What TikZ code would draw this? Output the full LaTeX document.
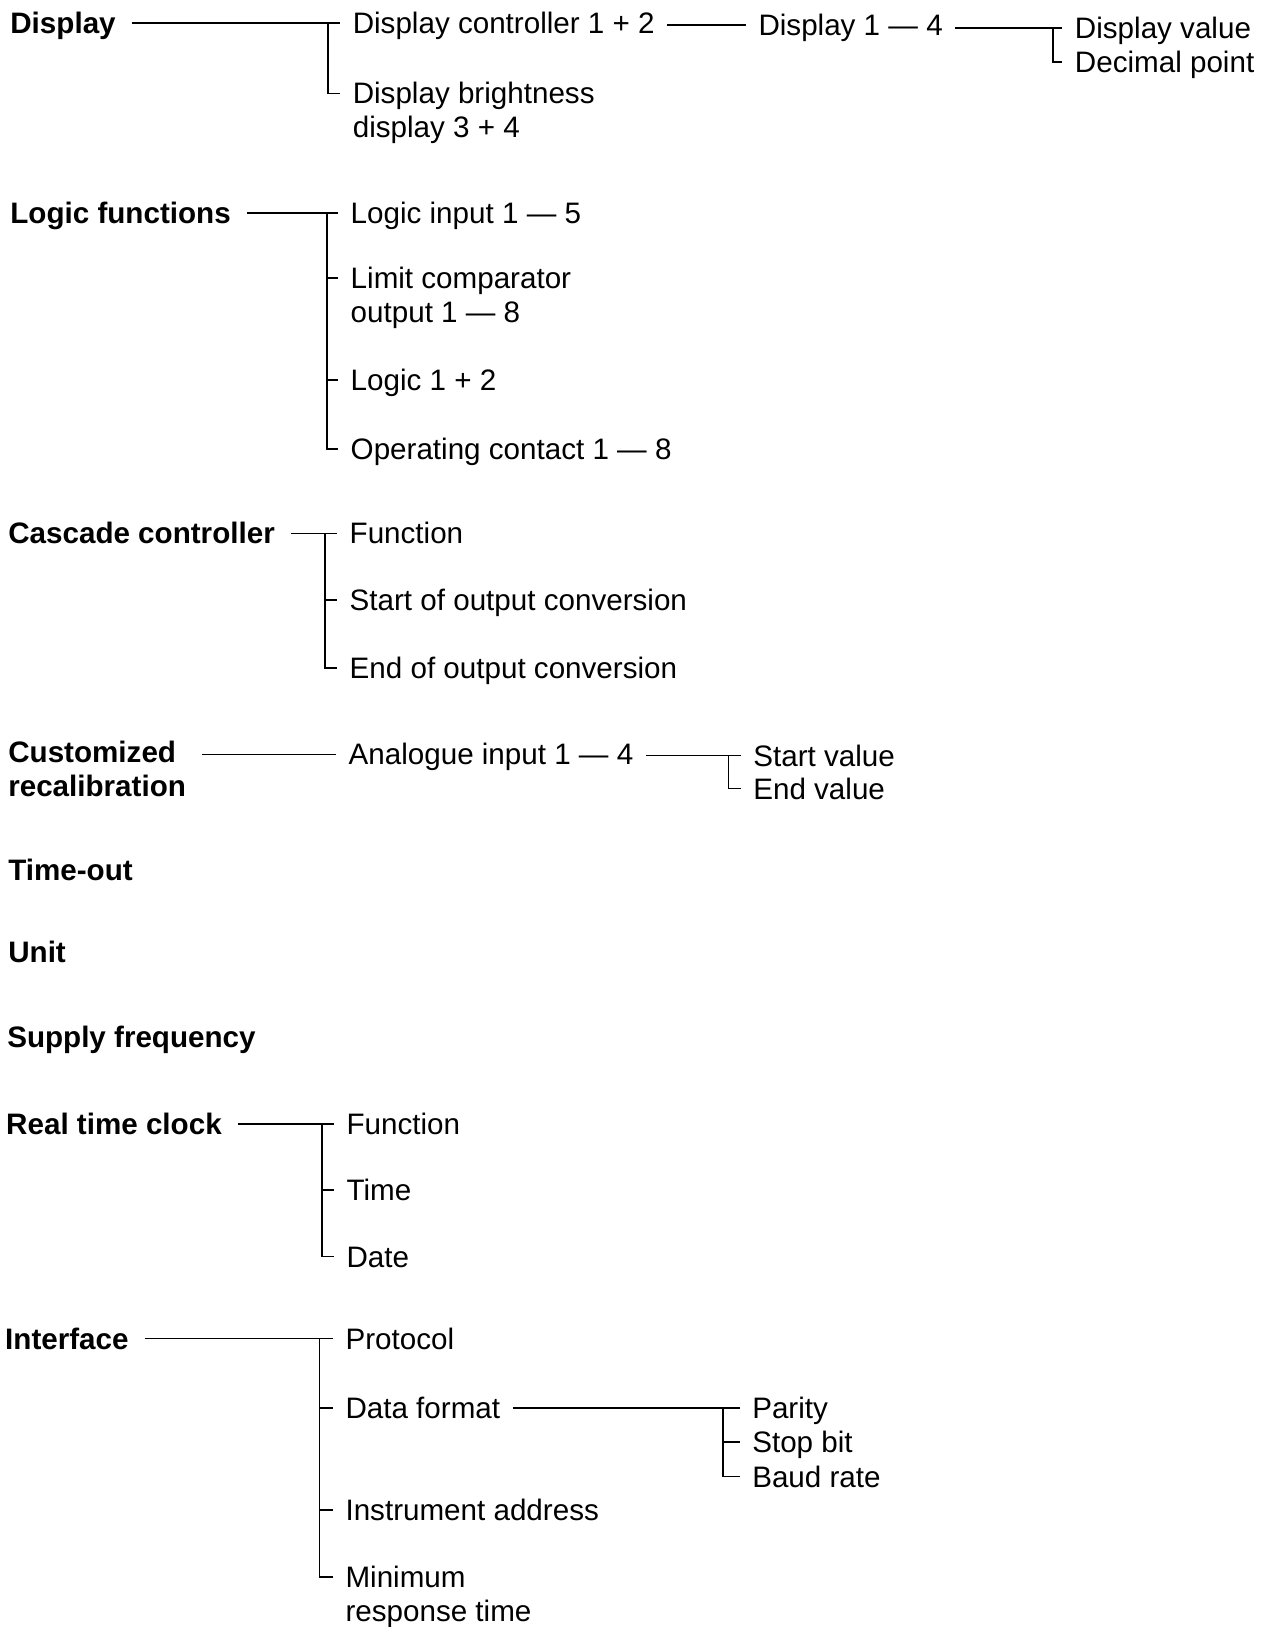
\documentclass[tikz,border=0pt]{standalone}
\usepackage{fontspec}
\setmainfont{Liberation Sans}
\begin{document}
\begin{tikzpicture}[x=0.5188pt,y=-0.5188pt,
  txtbase/.style={anchor=west, inner sep=0pt, outer ysep=0pt,
    text height=10.6pt, text depth=0pt},
  lbl/.style={txtbase, outer xsep=6.3pt, xshift=-6.3pt, font=\fontsize{14.8}{17}\selectfont},
  head/.style={txtbase, outer xsep=8pt, xshift=-8pt, font=\fontsize{14.8}{17}\selectfont\bfseries},
  conn/.style={line width=0.85pt, line cap=butt}]
\useasboundingbox (0,0) rectangle (1224,1568);

% bar positions
\coordinate (b1) at (316,0);
\coordinate (b2) at (1015,0);
\coordinate (b3) at (315,0);
\coordinate (b4) at (313,0);
\coordinate (b5) at (702,0);
\coordinate (b6) at (310,0);
\coordinate (b7) at (308,0);
\coordinate (b8) at (697,0);

% Display
\node[head] (disp) at (10,22) {Display};
\node[lbl] (dc) at (340,22) {Display controller 1 + 2};
\node[lbl] (db) at (340,90) {\begin{tabular}[t]{@{}l@{}}Display brightness\\display 3 + 4\end{tabular}};
\node[lbl] (d14) at (731,24) {Display 1 — 4};
\node[lbl] (dv) at (1036,27) {Display value};
\node[lbl] (dp) at (1036,60) {Decimal point};
\draw[conn] (disp.east |- dc.west) -- (dc.west);
\draw[conn] (b1 |- dc.west) |- (db.west);
\draw[conn] (dc.east |- d14.west) -- (d14.west);
\draw[conn] (d14.east |- dv.west) -- (dv.west);
\draw[conn] (b2 |- dv.west) |- (dp.west);

% Logic functions
\node[head] (logic) at (10,205) {Logic functions};
\node[lbl] (li) at (338,205) {Logic input 1 — 5};
\node[lbl] (lc) at (338,268) {\begin{tabular}[t]{@{}l@{}}Limit comparator\\output 1 — 8\end{tabular}};
\node[lbl] (l12) at (338,366) {Logic 1 + 2};
\node[lbl] (oc) at (338,433) {Operating contact 1 — 8};
\draw[conn] (logic.east |- li.west) -- (li.west);
\draw[conn] (b3 |- li.west) |- (oc.west);
\draw[conn] (b3 |- lc.west) -- (lc.west);
\draw[conn] (b3 |- l12.west) -- (l12.west);

% Cascade controller
\node[head] (casc) at (8,514) {Cascade controller};
\node[lbl] (cf) at (337,514) {Function};
\node[lbl] (cs) at (337,578) {Start of output conversion};
\node[lbl] (ce) at (337,644) {End of output conversion};
\draw[conn] (casc.east |- cf.west) -- (cf.west);
\draw[conn] (b4 |- cf.west) |- (ce.west);
\draw[conn] (b4 |- cs.west) -- (cs.west);

% Customized recalibration
\node[head] (cust) at (8,725) {\begin{tabular}[t]{@{}l@{}}Customized\\recalibration\end{tabular}};
\node[lbl] (ai) at (336,727) {Analogue input 1 — 4};
\node[lbl] (sv) at (726,728) {Start value};
\node[lbl] (ev) at (726,760) {End value};
\draw[conn] (cust.east |- ai.west) -- (ai.west);
\draw[conn] (ai.east |- sv.west) -- (sv.west);
\draw[conn] (b5 |- sv.west) |- (ev.west);

% Single items
\node[head] (tout) at (8,838) {Time-out};
\node[head] (unit) at (8,917) {Unit};
\node[head] (supf) at (7,999) {Supply frequency};

% Real time clock
\node[head] (rtc) at (6,1083) {Real time clock};
\node[lbl] (rf) at (334,1083) {Function};
\node[lbl] (rt) at (334,1147) {Time};
\node[lbl] (rd) at (334,1211) {Date};
\draw[conn] (rtc.east |- rf.west) -- (rf.west);
\draw[conn] (b6 |- rf.west) |- (rd.west);
\draw[conn] (b6 |- rt.west) -- (rt.west);

% Interface
\node[head] (intf) at (5,1290) {Interface};
\node[lbl] (ip) at (333,1290) {Protocol};
\node[lbl] (idf) at (333,1357) {Data format};
\node[lbl] (ia) at (333,1455) {Instrument address};
\node[lbl] (im) at (333,1520) {\begin{tabular}[t]{@{}l@{}}Minimum\\response time\end{tabular}};
\node[lbl] (par) at (725,1357) {Parity};
\node[lbl] (sb) at (725,1390) {Stop bit};
\node[lbl] (br) at (725,1423) {Baud rate};
\draw[conn] (intf.east |- ip.west) -- (ip.west);
\draw[conn] (b7 |- ip.west) |- (im.west);
\draw[conn] (b7 |- idf.west) -- (idf.west);
\draw[conn] (b7 |- ia.west) -- (ia.west);
\draw[conn] (idf.east |- par.west) -- (par.west);
\draw[conn] (b8 |- par.west) |- (br.west);
\draw[conn] (b8 |- sb.west) -- (sb.west);
\end{tikzpicture}
\end{document}
